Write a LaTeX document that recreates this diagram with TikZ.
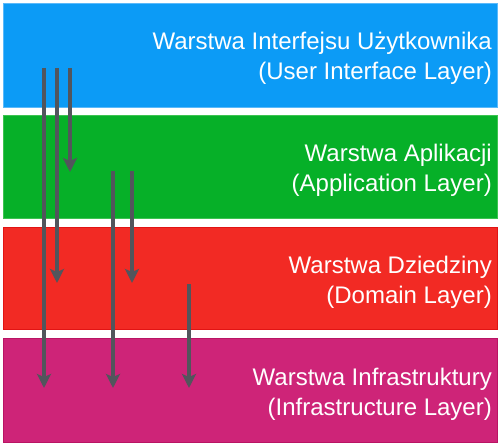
\documentclass[tikz,border=0pt]{standalone}
\usepackage{fontspec}
\setmainfont{Liberation Sans}
\usetikzlibrary{arrows.meta}
\definecolor{uiblue}{RGB}{12,155,246}
\definecolor{uibluebd}{RGB}{90,185,250}
\definecolor{appgreen}{RGB}{6,176,40}
\definecolor{appgreenbd}{RGB}{60,195,80}
\definecolor{domred}{RGB}{242,42,36}
\definecolor{domredbd}{RGB}{225,20,20}
\definecolor{infmag}{RGB}{206,36,120}
\definecolor{infmagbd}{RGB}{185,20,100}
\definecolor{arrowgray}{RGB}{82,85,92}
\begin{document}
\begin{tikzpicture}[x=1pt,y=-1pt,
  layerbox/.style={line width=0.8pt},
  layertext/.style={anchor=base east, text=white, inner sep=0pt,
    font=\fontsize{24}{28}\selectfont},
  deparrow/.style={draw=arrowgray, line width=3.6pt,
    -{Stealth[length=14pt,width=14pt,inset=3pt]}}
]
\useasboundingbox[fill=white] (0,0) rectangle (500,446);
% layers
\path[layerbox, fill=uiblue, draw=uibluebd] (3,3) rectangle (497,107);
\path[layerbox, fill=appgreen, draw=appgreenbd] (3,115) rectangle (497,218);
\path[layerbox, fill=domred, draw=domredbd] (3,227) rectangle (497,329);
\path[layerbox, fill=infmag, draw=infmagbd] (3,338) rectangle (497,442);
% texts
\node[layertext] (ui1) at (492,50) {Warstwa Interfejsu Użytkownika};
\node[layertext] (ui2) at (492,80) {(User Interface Layer)};
\node[layertext] (ap1) at (492,162) {Warstwa Aplikacji};
\node[layertext] (ap2) at (492,192) {(Application Layer)};
\node[layertext] (dm1) at (492,273) {Warstwa Dziedziny};
\node[layertext] (dm2) at (492,303) {(Domain Layer)};
\node[layertext] (in1) at (492,385) {Warstwa Infrastruktury};
\node[layertext] (in2) at (492,415) {(Infrastructure Layer)};
% arrow endpoints
\coordinate (s1) at (44,68);  \coordinate (e1) at (44,388);
\coordinate (s2) at (57,68);  \coordinate (e2) at (57,283);
\coordinate (s3) at (70,68);  \coordinate (e3) at (70,172);
\coordinate (s4) at (113,171); \coordinate (e4) at (113,388);
\coordinate (s5) at (132,171); \coordinate (e5) at (132,283);
\coordinate (s6) at (189,284); \coordinate (e6) at (189,388);
% arrows
\foreach \i in {1,...,6} {
  \draw[deparrow] (s\i) -- (e\i);
}
\end{tikzpicture}
\end{document}
